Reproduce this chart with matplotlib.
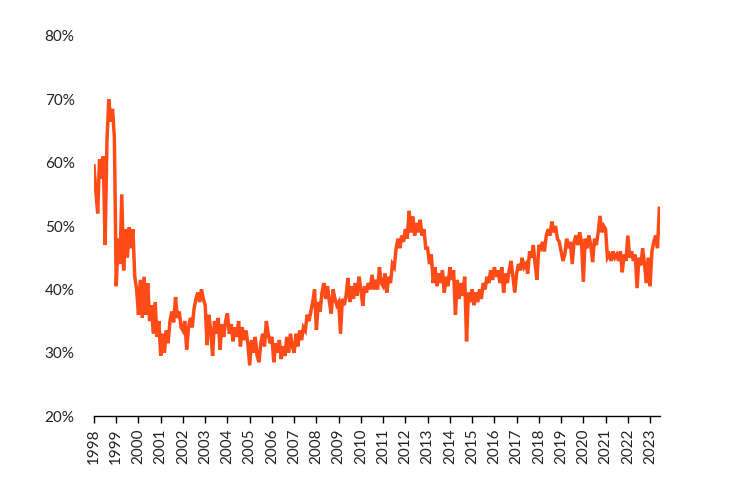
import numpy as np
import matplotlib
matplotlib.use('Agg')
import matplotlib.pyplot as plt

# monthly readings, Jan 1998 .. Jun 2023 (percent)
share_1998 = [59.5, 55.5, 52, 60.5, 57.5, 61, 47, 63.5, 70, 66.5, 68.5, 64]
share_1999 = [40.5, 48, 44, 55, 43, 49.5, 45, 49.8, 46.5, 49.5, 42, 40]
share_2000 = [36, 41.5, 35.5, 42, 36, 41, 35, 37.5, 33, 38, 32.5, 35]
share_2001 = [29.5, 33, 30, 33.5, 31.5, 35, 36.5, 34.8, 38.8, 35.5, 36.5, 34]
share_2002 = [33.5, 35, 30.5, 34, 35.5, 34, 37, 38.5, 39.5, 38, 40, 38.5]
share_2003 = [37.5, 31.2, 36, 33.5, 29.5, 35, 33, 35.5, 30.5, 34.5, 32.5, 35]
share_2004 = [36.2, 33, 34.5, 31.8, 34, 32.5, 35, 31, 34, 32, 33.5, 31.5]
share_2005 = [28, 32, 30, 32.5, 29.5, 28.5, 31.5, 33, 31, 35, 33, 31.5]
share_2006 = [32.5, 28.5, 31.5, 30, 32, 29, 31, 29.5, 32.5, 30, 33, 31]
share_2007 = [30, 33, 31, 33.5, 32, 34, 33.5, 36, 35, 36.5, 38, 40]
share_2008 = [33.6, 38, 36.5, 39.5, 41, 38.5, 40.5, 38, 36.2, 40, 38.5, 37.5]
share_2009 = [38, 33, 38.5, 37.5, 39, 41.8, 38, 40.5, 38.5, 41, 39, 42]
share_2010 = [40, 37.4, 40.5, 39.5, 41, 40, 42.3, 40, 41.5, 40, 43.5, 41]
share_2011 = [40.5, 42.5, 39.5, 42, 41, 44, 43.5, 46.5, 48, 46.5, 48.5, 47.5]
share_2012 = [49.5, 48, 52.4, 49, 51.5, 48.5, 50.5, 49, 51, 48.5, 49.5, 46.5]
share_2013 = [46.5, 44, 45.5, 41, 43.5, 40.5, 42.5, 41, 43, 39.5, 42, 40.5]
share_2014 = [43.5, 41.5, 43, 36, 41.5, 38.5, 41, 39, 42, 31.8, 39.5, 38]
share_2015 = [40, 37.5, 39.5, 38, 40, 38.5, 41, 40, 42, 41, 43, 41.5]
share_2016 = [43.5, 42, 43, 41, 43.5, 39.5, 42.5, 41, 43, 44.5, 42, 39.5]
share_2017 = [42.5, 44, 43, 45, 43.5, 44, 42.5, 46, 45, 47, 44, 41.5]
share_2018 = [47, 46.5, 47.5, 46, 48.5, 49.5, 48.5, 50.7, 49, 50, 48, 47.5]
share_2019 = [46, 44.5, 45.5, 48, 46.5, 47.5, 44, 47.5, 48.5, 47, 49, 47.5]
share_2020 = [41.2, 48, 46.5, 48.5, 47, 44.3, 48, 47, 49, 51.6, 49, 50]
share_2021 = [49.5, 45, 45.5, 44.5, 46, 45, 45.5, 44.5, 46, 42.7, 45.5, 44.5]
share_2022 = [48.5, 45, 46, 44.5, 45.5, 40.2, 45, 43.8, 46.5, 44, 41, 45]
share_2023 = [40.5, 46, 47.5, 48.5, 46.5, 52.8]

years = list(range(1998, 2024))
y_ticks = [20, 30, 40, 50, 60, 70, 80]

share = (share_1998 + share_1999 + share_2000 + share_2001 + share_2002
         + share_2003 + share_2004 + share_2005 + share_2006 + share_2007
         + share_2008 + share_2009 + share_2010 + share_2011 + share_2012
         + share_2013 + share_2014 + share_2015 + share_2016 + share_2017
         + share_2018 + share_2019 + share_2020 + share_2021 + share_2022
         + share_2023)
dates = 1998 + np.arange(len(share)) / 12.0

plt.rcParams['font.family'] = ['Lato', 'DejaVu Sans']

fig = plt.figure(figsize=(7.4, 4.93), dpi=100)
ax = fig.add_axes([0.127, 0.156, 0.765, 0.771])

ax.plot(dates, share, color='#FF4B17', linewidth=2.5, solid_joinstyle='miter')

ax.set_xlim(1998, 2023.45)
ax.set_ylim(20, 80)
ax.set_xticks(years)
ax.set_xticklabels([str(y) for y in years], rotation=90, fontsize=11, color='#222222')
ax.set_yticks(y_ticks)
ax.set_yticklabels([f'{v}%' for v in y_ticks], fontsize=11, color='#222222')

for s in ['top', 'right', 'left']:
    ax.spines[s].set_visible(False)
ax.spines['bottom'].set_color('black')
ax.spines['bottom'].set_linewidth(1.0)
ax.tick_params(axis='x', length=5, width=1, color='black', pad=4)
ax.tick_params(axis='y', length=0, pad=14)

fig.savefig('out.png', dpi=100)
